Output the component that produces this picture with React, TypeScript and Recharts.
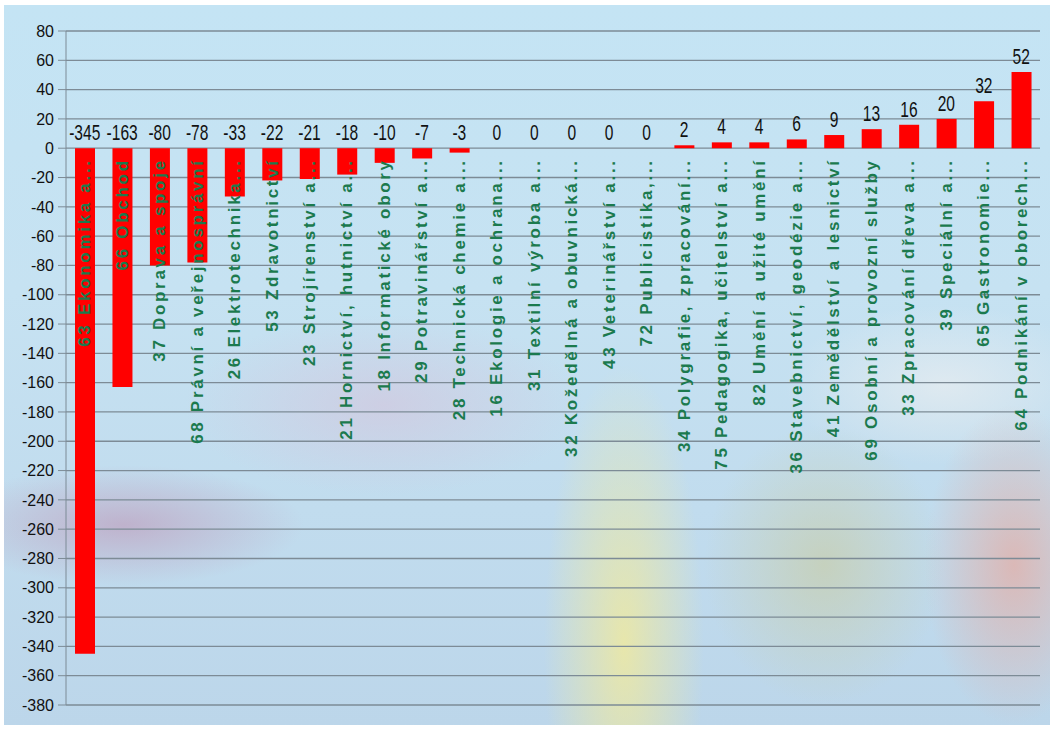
import React from "react";
import { ComposedChart, Bar, Scatter, XAxis, YAxis, CartesianGrid } from "recharts";

const categories: string[] = [
  "63 Ekonomika a...",
  "66 Obchod",
  "37 Doprava a spoje",
  "68 Právní a veřejnosprávní",
  "26 Elektrotechnika...",
  "53 Zdravotnictví",
  "23 Strojírenství a...",
  "21 Hornictví, hutnictví a...",
  "18 Informatické obory",
  "29 Potravinářství a...",
  "28 Technická chemie a...",
  "16 Ekologie a ochrana...",
  "31 Textilní výroba a...",
  "32 Kožedělná a obuvnická...",
  "43 Veterinářství a...",
  "72 Publicistika,...",
  "34 Polygrafie, zpracování...",
  "75 Pedagogika, učitelství a...",
  "82 Umění a užité umění",
  "36 Stavebnictví, geodézie a...",
  "41 Zemědělství a lesnictví",
  "69 Osobní a provozní služby",
  "33 Zpracování dřeva a...",
  "39 Speciální a...",
  "65 Gastronomie...",
  "64 Podnikání v oborech...",
];

const values: number[] = [
  -345, -163, -80, -78, -33, -22, -21, -18, -10, -7, -3, 0, 0, 0, 0, 0, 2, 4, 4, 6, 9, 13, 16, 20, 32, 52,
];

const yTicks: number[] = [
  80, 60, 40, 20, 0, -20, -40, -60, -80, -100, -120, -140, -160, -180, -200, -220, -240, -260, -280, -300,
  -320, -340, -360, -380,
];

const data = categories.map((name, i) => ({
  name,
  value: values[i],
  base: 0,
  labelAt: Math.max(values[i], 0),
}));

const NameShape = (p: any) => {
  const cx = Number(p.cx);
  const ty = Number(p.cy) + 10;
  return (
    <text
      x={cx}
      y={ty}
      transform={`rotate(-90 ${cx} ${ty})`}
      textAnchor="end"
      dominantBaseline="central"
      fill="#1b7a4e"
      fontFamily="Arial, 'Liberation Sans', sans-serif"
      fontWeight="bold"
      fontSize={17}
      letterSpacing={2.7}
    >
      {p.payload.name}
    </text>
  );
};

const ValueShape = (p: any) => {
  const cx = Number(p.cx);
  const cy = Number(p.cy) - 8;
  return (
    <text
      x={0}
      y={0}
      transform={`translate(${cx} ${cy}) scale(0.82 1.12)`}
      textAnchor="middle"
      fill="#111"
      fontFamily="Arial, 'Liberation Sans', sans-serif"
      fontSize={19}
    >
      {p.payload.value}
    </text>
  );
};

export default function App() {
  const bg =
    "radial-gradient(ellipse 180px 60px at 120px 520px, rgba(190,160,190,0.7), rgba(190,160,190,0) 100%)," +
    "radial-gradient(ellipse 200px 90px at 380px 400px, rgba(215,190,215,0.5), rgba(215,190,215,0) 100%)," +
    "radial-gradient(ellipse 80px 280px at 620px 640px, rgba(245,235,150,0.75), rgba(245,235,150,0) 100%)," +
    "radial-gradient(ellipse 120px 140px at 820px 560px, rgba(200,205,170,0.7), rgba(200,205,170,0) 100%)," +
    "radial-gradient(ellipse 90px 160px at 1010px 560px, rgba(230,170,160,0.7), rgba(230,170,160,0) 100%)," +
    "radial-gradient(ellipse 160px 80px at 940px 380px, rgba(240,240,240,0.6), rgba(240,240,240,0) 100%)," +
    "linear-gradient(180deg, #c4e4f4 0%, #c6e2f2 40%, #bcd6ea 100%)";
  return (
    <div style={{ position: "absolute", left: 0, top: 0, width: 1056, height: 729, background: "#fff" }}>
      <div
        style={{
          position: "absolute",
          left: 4,
          top: 5,
          width: 1046,
          height: 720,
          background: bg,
        }}
      />
      <div style={{ position: "absolute", left: 0, top: 0 }}>
        <ComposedChart
          width={1056}
          height={729}
          data={data}
          margin={{ top: 31, right: 16, bottom: 24, left: 0 }}
          barSize={20}
        >
          <CartesianGrid vertical={false} stroke="#7d8b96" strokeWidth={1.3} />
          <XAxis dataKey="name" hide />
          <YAxis
            width={66}
            domain={[-380, 80]}
            ticks={yTicks}
            interval={0}
            allowDataOverflow
            tickSize={8}
            tickMargin={4}
            axisLine={{ stroke: "#7d8b96" }}
            tickLine={{ stroke: "#7d8b96" }}
            tick={{ fill: "#111", fontSize: 16, fontFamily: "Arial, 'Liberation Sans', sans-serif" }}
          />
          <Bar dataKey="value" fill="#ff0000" isAnimationActive={false} />
          <Scatter dataKey="base" shape={NameShape} isAnimationActive={false} />
          <Scatter dataKey="labelAt" shape={ValueShape} isAnimationActive={false} />
        </ComposedChart>
      </div>
    </div>
  );
}
